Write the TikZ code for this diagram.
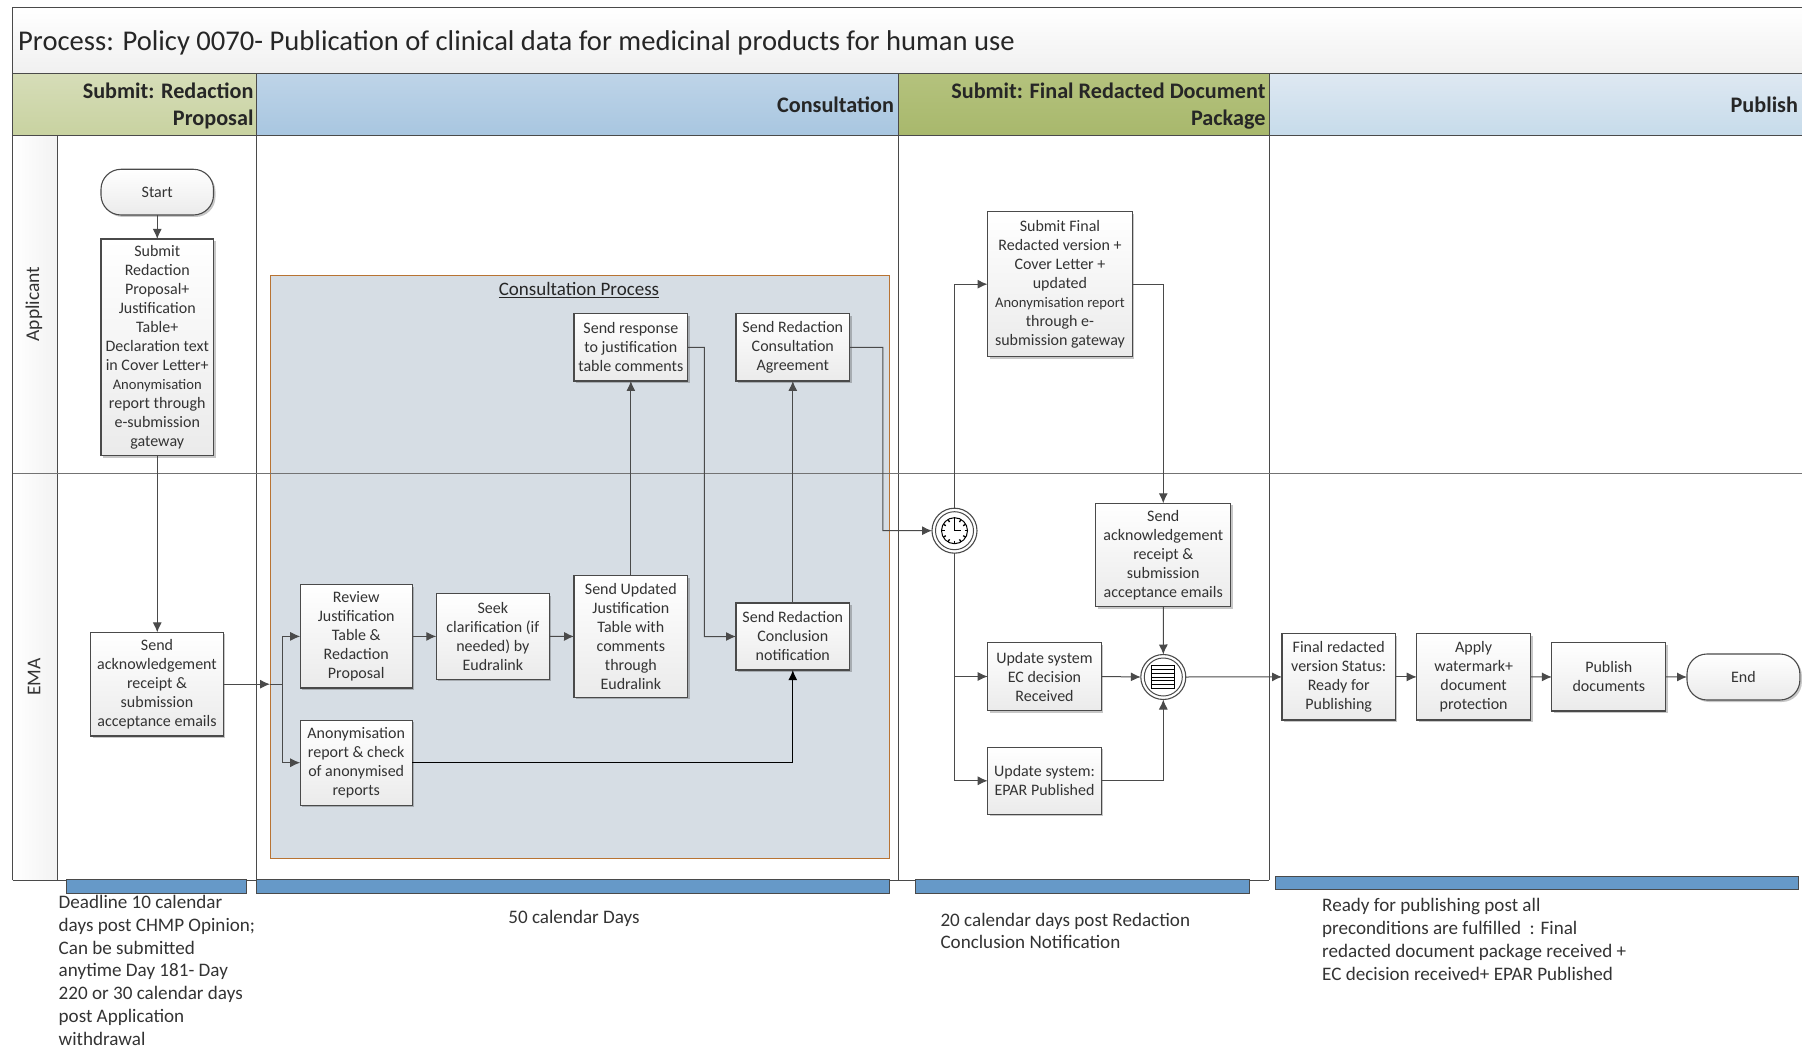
\documentclass[tikz,border=0pt]{standalone}
\usepackage{fontspec}
\setmainfont{Carlito}
\usetikzlibrary{arrows.meta,shadows,calc}
\definecolor{linegray}{HTML}{4A4A4A}
\definecolor{txt}{HTML}{333333}
\tikzset{
  procbox/.style={draw=linegray,line width=1.1pt,top color=white,bottom color=black!8,inner sep=0pt,outer sep=0pt,align=center,text=txt,font=\fontsize{16}{19}\selectfont,drop shadow={shadow xshift=2pt,shadow yshift=-2pt,opacity=.22,fill=black}},
  endbox/.style={procbox,rounded corners=20pt},
  flow/.style={draw=linegray,line width=1pt,-{Latex[length=10pt,width=9pt]}},
  plain/.style={draw=linegray,line width=1pt},
  strong/.style={draw=black,line width=1.3pt,-{Latex[length=10pt,width=9pt]}},
  ring/.style={circle,draw=linegray,fill=white,line width=1.1pt,minimum size=45pt,inner sep=0pt,outer sep=0pt},
  swim/.style={draw=linegray,line width=1pt},
  headtxt/.style={anchor=east,align=right,font=\fontsize{22.2}{27}\selectfont\bfseries,text=black!85},
  lanetxt/.style={rotate=90,font=\fontsize{19.5}{22}\selectfont,text=txt},
  note/.style={align=left,font=\fontsize{19.1}{22.8}\selectfont,text=txt,inner sep=0pt},
  bar/.style={draw=linegray,line width=.9pt,fill={rgb,255:red,102;green,153;blue,200}},
}
\newcommand{\procnode}[6]{\node[procbox,minimum width={(#4-#2)*1pt},minimum height={(#5-#3)*1pt}] (#1) at ({(#2+#4)/2},{(#3+#5)/2}) {#6};}
\newcommand{\roundnode}[6]{\node[endbox,minimum width={(#4-#2)*1pt},minimum height={(#5-#3)*1pt}] (#1) at ({(#2+#4)/2},{(#3+#5)/2}) {#6};}
\newcommand{\smalltxt}[1]{{\fontsize{14.6}{19}\selectfont #1}}
\begin{document}
\begin{tikzpicture}[x=1pt,y=-1pt]
\useasboundingbox (0,0) rectangle (1802,1048);
% title and headers
\path[top color=white,bottom color=black!6] (12.6,7.3) rectangle (1802,74);
\path[top color={rgb,255:red,214;green,221;blue,184},bottom color={rgb,255:red,200;green,210;blue,160}] (12.6,74) rectangle (256.6,136);
\path[top color={rgb,255:red,190;green,212;blue,232},bottom color={rgb,255:red,168;green,198;blue,224}] (256.6,74) rectangle (898.4,136);
\path[top color={rgb,255:red,180;green,194;blue,125},bottom color={rgb,255:red,168;green,184;blue,108}] (898.4,74) rectangle (1269.4,136);
\path[top color={rgb,255:red,222;green,232;blue,242},bottom color={rgb,255:red,198;green,219;blue,234}] (1269.4,74) rectangle (1802,136);
\path[left color=white,right color=black!5] (12.6,136) rectangle (57.4,880);
\node[anchor=west,inner sep=0pt,font=\fontsize{28.6}{34}\selectfont,text=black!85] (title) at (18,42.5) {Process: Policy 0070- Publication of clinical data for medicinal products for human use};
\node[headtxt] (h1) at (257,106) {Submit: Redaction\\Proposal};
\node[headtxt] (h2) at (897.5,105) {Consultation};
\node[headtxt] (h3) at (1269,106) {Submit: Final Redacted Document\\Package};
\node[headtxt] (h4) at (1801.5,105) {Publish};
\node[lanetxt] (l1) at (34,304) {Applicant};
\node[lanetxt] (l2) at (34,677) {EMA};
% consultation process container
\path[draw={rgb,255:red,184;green,115;blue,51},line width=1.1pt,fill={rgb,255:red,214;green,221;blue,228}] (270.4,275.3) rectangle (889.8,858.4);
\node[inner sep=0pt,font=\fontsize{19}{22}\selectfont,text=black!85] (cp) at (579,290) {\underline{Consultation Process}};
% swimlane lines
\draw[swim] (12.6,880) -- (12.6,7.3) -- (1802,7.3);
\draw[swim] (12.6,74) -- (1802,74);
\draw[swim] (12.6,136) -- (1802,136);
\draw[swim] (57.4,136) -- (57.4,880);
\draw[swim] (256.6,74) -- (256.6,880);
\draw[swim] (898.4,74) -- (898.4,880);
\draw[swim] (1269.4,74) -- (1269.4,880);
\draw[swim] (12.6,880) -- (1269.4,880);
\draw[draw=black!55,line width=1pt] (12.6,473.3) -- (1802,473.3);
% duration bars
\path[bar] (66,879) rectangle (246.8,893.2);
\path[bar] (256.6,879) rectangle (889.2,893.2);
\path[bar] (915.5,879) rectangle (1249.3,893.2);
\path[bar] (1275.7,876) rectangle (1798,889.5);
% nodes
\roundnode{start}{101}{169.3}{213.5}{215}{Start}
\procnode{submit}{101}{239}{213.5}{455.7}{Submit\\Redaction\\Proposal+\\Justification\\Table+\\Declaration text\\in Cover Letter+\\\smalltxt{Anonymisation}\\report  through\\e-submission\\gateway}
\procnode{ackA}{90.7}{632.4}{223.3}{736}{Send\\acknowledgement\\receipt \&\\submission\\acceptance emails}
\procnode{review}{300.2}{584.8}{412.2}{688}{Review\\Justification\\Table \&\\Redaction\\Proposal}
\procnode{seek}{436.3}{593.7}{549.4}{679.1}{Seek\\clarification (if\\needed) by\\Eudralink}
\procnode{updated}{574}{575.8}{687.7}{697.1}{Send Updated\\Justification\\Table with\\comments\\through\\Eudralink}
\procnode{concl}{736}{603}{849.6}{670}{Send Redaction\\Conclusion\\notification}
\procnode{anon}{300.2}{720.2}{412.2}{805.2}{Anonymisation\\report \& check\\of anonymised\\reports}
\procnode{resp}{574}{313.7}{687.7}{381}{Send response\\to justification\\table comments}
\procnode{agree}{736}{313.7}{849.6}{381}{Send Redaction\\Consultation\\Agreement}
\procnode{final}{987.5}{211.7}{1132.4}{356.7}{Submit Final\\Redacted version +\\Cover Letter +\\updated\\\smalltxt{Anonymisation report}\\through e-\\submission gateway}
\procnode{ackB}{1095.7}{503.3}{1230.8}{606.8}{Send\\acknowledgement\\receipt \&\\submission\\acceptance emails}
\procnode{upec}{987.7}{642.5}{1101.3}{710.5}{Update system\\EC decision\\Received}
\procnode{upepar}{987.7}{747.3}{1101.3}{814.3}{Update system:\\EPAR Published}
\procnode{ready}{1282}{633.8}{1395.4}{720}{Final redacted\\version Status:\\Ready for\\Publishing}
\procnode{apply}{1416.7}{633.8}{1530.6}{720}{Apply\\watermark+\\document\\protection}
\procnode{pubdoc}{1551.9}{642.9}{1665.8}{711}{Publish\\documents}
\roundnode{endn}{1687}{654}{1799.9}{700}{End}
\node[ring] (timer) at (954.5,530.7) {};
\node[ring] (merge) at (1163.3,677) {};
% event inner marks
\draw[linegray,line width=1pt] (timer.center) circle (19);
\draw[black,line width=1pt] (timer.center) circle (13);
\foreach \a in {0,30,...,330} \draw[black,line width=1.3pt] ($(timer.center)+(\a:10)$) -- ($(timer.center)+(\a:13)$);
\draw[black,line width=1.3pt] ($(timer.center)+(0,-10)$) -- (timer.center) -- ($(timer.center)+(6,0)$);
\draw[linegray,line width=1pt] (merge.center) circle (19);
\draw[black,line width=1.2pt,fill=white] ($(merge.center)+(-11.5,-11.5)$) rectangle ($(merge.center)+(11.5,11.5)$);
\foreach \d in {-7.7,-3.85,0,3.85,7.7} \draw[black,line width=.9pt] ($(merge.center)+(-11.5,\d)$) -- ($(merge.center)+(11.5,\d)$);
% connector helpers
\coordinate (ackin) at (270,684.2);
\coordinate (junc) at (282,684.2);
\coordinate (respvia) at (704.4,347.3);
\coordinate (agreevia) at (882.9,347.3);
% connectors
\draw[flow] (start.south) -- (start.south|-submit.north);
\draw[flow] (submit.south) -- (submit.south|-ackA.north);
\draw[flow] (ackA.east) -- (ackin);
\draw[plain] (ackin) -- (junc);
\draw[flow] (junc) |- (review.west);
\draw[flow] (junc) |- (anon.west);
\draw[flow] (review.east) -- (seek.west);
\draw[flow] (seek.east) -- (updated.west);
\draw[flow] (updated.north) -- (resp.south);
\draw[flow] (concl.north) -- (agree.south);
\draw[strong] (anon.east) -| (concl.south);
\draw[flow] (resp.east) -- (respvia) |- (concl.west);
\draw[flow] (agree.east) -- (agreevia) |- (timer.west);
\draw[flow] (timer.north) |- (final.west);
\draw[flow] (timer.south) |- (upec.west);
\draw[flow] (timer.south) |- (upepar.west);
\draw[flow] (final.east) -| (ackB.north);
\draw[flow] (ackB.south) -- (merge.north);
\draw[flow] (upec.east) -- (merge.west);
\draw[flow] (upepar.east) -| (merge.south);
\draw[flow] (merge.east) -- (ready.west);
\draw[flow] (ready.east) -- (apply.west);
\draw[flow] (apply.east) -- (pubdoc.west);
\draw[flow] (pubdoc.east) -- (endn.west);
% notes
\node[note,anchor=west] (n1) at (58.5,970.3) {Deadline 10 calendar\\days post CHMP Opinion;\\Can be submitted\\anytime Day 181- Day\\220 or 30 calendar days\\post Application\\withdrawal};
\node[note] (n2) at (574,918) {50 calendar Days};
\node[note,anchor=west] (n3) at (940.3,931) {20 calendar days post Redaction\\Conclusion Notification};
\node[note,anchor=west] (n4) at (1322,939.5) {Ready for publishing post all\\preconditions are fulfilled~ : Final\\redacted document package received +\\EC decision received+ EPAR Published};
\end{tikzpicture}
\end{document}
